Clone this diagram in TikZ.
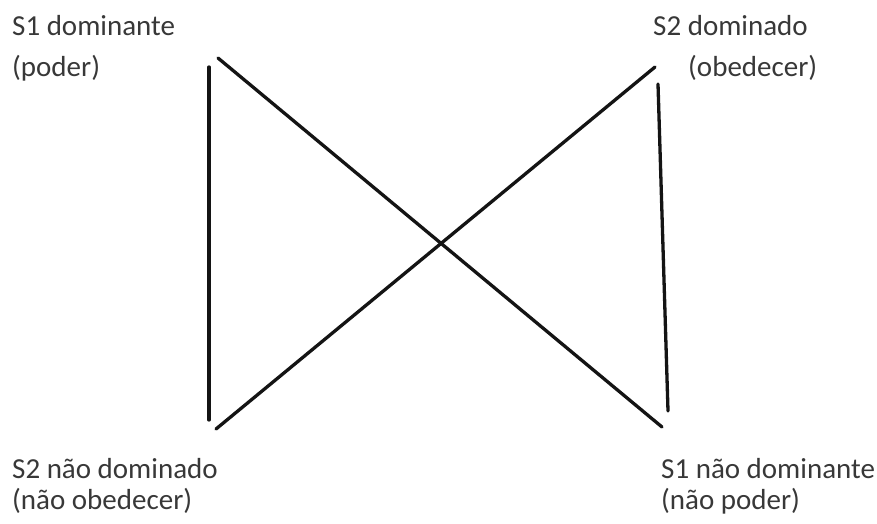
\documentclass[tikz,border=0pt]{standalone}
\usepackage{fontspec}
\setmainfont{Carlito}
\begin{document}
\begin{tikzpicture}[x=1pt,y=-1pt,
		linha/.style={line width=3.3pt, line cap=round, line join=round, black!92},
		rotulo/.style={anchor=base west, inner sep=0pt, text=black!78, font=\fontsize{29}{34}\selectfont},
		]
		
		\useasboundingbox(0,0)rectangle(877,523);
		
		%% ── rótulos ─────────────────────────────────────────────
		\node[rotulo](s1dom)at(12,35){S1 dominante};
		\node[rotulo](s1pod)at(12,76){(poder)};
		\node[rotulo](s2dom)at(653,35){S2 dominado};
		\node[rotulo](s2obe)at(688,76){(obedecer)};
		\node[rotulo](s2ndom)at(12,478){S2 não dominado};
		\node[rotulo](s2nobe)at(12,509){(não obedecer)};
		\node[rotulo](s1ndom)at(661,478){S1 não dominante};
		\node[rotulo](s1npod)at(661,509){(não poder)};
		
		%% ── extremos das linhas ─────────────────────────────────
		\coordinate(esqA)at(209,67);
		\coordinate(esqB)at(209,420);
		\coordinate(dgaA)at(218,58);
		\coordinate(dgaB)at(662,427);
		\coordinate(dgbA)at(216,429);
		\coordinate(dgbB)at(655,67);
		\coordinate(dirA)at(658,84);
		\coordinate(dirB)at(668,411);
		
		%% ── linhas ──────────────────────────────────────────────
		\draw[linha](esqA)--(esqB);
		\draw[linha](dgaA)--(dgaB);
		\draw[linha](dgbA)--(dgbB);
		\draw[linha](dirA)--(dirB);
		
\end{tikzpicture}
\end{document}
